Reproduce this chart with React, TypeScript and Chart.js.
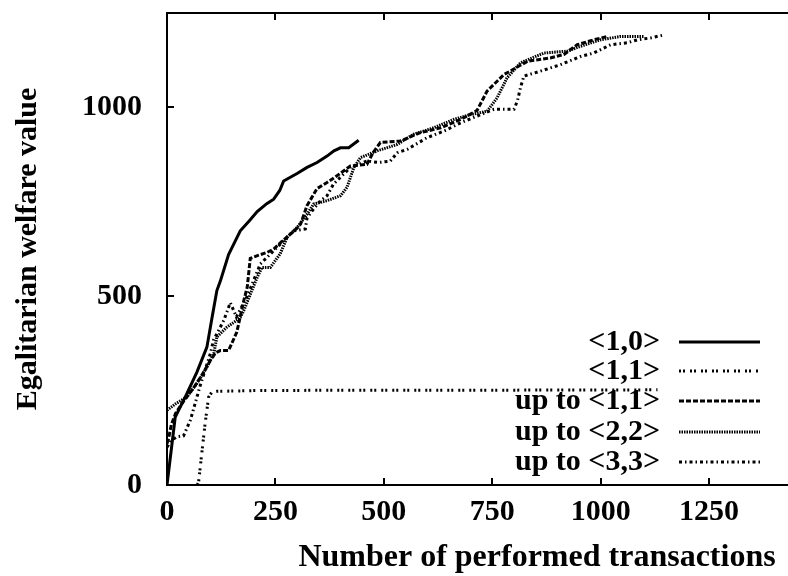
import React, { useEffect, useRef } from 'react';
import { Chart, registerables } from 'chart.js';
Chart.register(...registerables);

const FONT = '"Liberation Serif", "Times New Roman", serif';

// <1,0>
const s10X = [0, 19, 45, 69, 92, 104, 115, 123, 142, 169, 190, 208, 230, 246, 260, 269, 300, 323, 346, 369, 385, 400, 419, 442];
const s10Y = [0, 180, 240, 299, 365, 444, 515, 540, 610, 673, 700, 724, 745, 757, 780, 805, 825, 841, 854, 871, 885, 893, 893, 913];
// <1,1>
const s11X = [70, 73, 81, 88, 96, 103, 115, 200, 400, 700, 1131];
const s11Y = [0, 9, 92, 164, 233, 245, 248, 250, 251, 251, 252];
// up to <1,1>
const u11X = [0, 3, 10, 20, 40, 60, 80, 100, 112, 123, 142, 161, 177, 185, 192, 210, 231, 246, 265, 285, 300, 308, 323, 346, 369, 392, 423, 461, 475, 492, 538, 584, 631, 677, 715, 738, 754, 777, 831, 884, 915, 946, 984, 1016];
const u11Y = [110, 120, 160, 190, 225, 255, 290, 330, 350, 356, 356, 405, 488, 524, 600, 608, 616, 625, 645, 665, 680, 691, 740, 785, 801, 819, 845, 849, 880, 907, 911, 933, 946, 968, 992, 1043, 1061, 1087, 1122, 1131, 1140, 1166, 1179, 1188];
// up to <2,2>
const u22X = [0, 20, 46, 69, 92, 108, 115, 138, 161, 169, 177, 208, 219, 238, 261, 277, 300, 323, 338, 369, 400, 415, 431, 446, 485, 531, 569, 615, 661, 700, 738, 761, 784, 815, 869, 923, 954, 1000, 1046, 1100];
const u22Y = [198, 215, 233, 269, 312, 348, 392, 418, 436, 444, 462, 550, 576, 576, 612, 656, 682, 717, 744, 753, 766, 788, 841, 867, 885, 902, 929, 946, 968, 981, 990, 1025, 1078, 1118, 1144, 1149, 1162, 1179, 1188, 1188];
// up to <3,3>
const u33X = [0, 10, 23, 38, 54, 77, 100, 107, 131, 138, 146, 160, 185, 215, 250, 292, 319, 323, 338, 354, 369, 384, 423, 461, 488, 515, 531, 554, 600, 638, 677, 715, 754, 800, 808, 815, 823, 861, 907, 954, 984, 1023, 1061, 1085, 1115, 1146];
const u33Y = [100, 118, 128, 130, 172, 265, 348, 383, 436, 458, 483, 445, 500, 585, 625, 673, 678, 708, 731, 753, 766, 797, 841, 858, 854, 858, 880, 889, 920, 937, 959, 977, 995, 995, 1017, 1052, 1083, 1096, 1113, 1135, 1144, 1166, 1171, 1179, 1184, 1192];

const seriesLabels = ['<1,0>', '<1,1>', 'up to <1,1>', 'up to <2,2>', 'up to <3,3>'];
const xTicks = [0, 250, 500, 750, 1000, 1250];
const yTicks = [0, 500, 1000];
const xTitle = 'Number of performed transactions';
const yTitle = 'Egalitarian welfare value';
const X_MAX = 1432;
const Y_MAX = 1250;

const styles = [
  { width: 3, dash: [] as number[] },
  { width: 3, dash: [2, 2, 2, 5] },
  { width: 3, dash: [5, 2] },
  { width: 3, dash: [1.5, 1] },
  { width: 3, dash: [3, 3, 1.5, 3] },
];

const pts = (xs: number[], ys: number[]) => xs.map((x, i) => ({ x, y: ys[i] }));

const framePlugin = {
  id: 'frameAndLegend',
  afterDatasetsDraw(chart: any) {
    const { ctx, chartArea: a, scales } = chart;
    ctx.save();
    ctx.strokeStyle = '#000';
    ctx.lineWidth = 2;
    ctx.setLineDash([]);
    // frame: left, top, bottom (right edge is cropped in the original)
    ctx.beginPath();
    ctx.moveTo(a.right + 2, a.top);
    ctx.lineTo(a.left, a.top);
    ctx.lineTo(a.left, a.bottom);
    ctx.lineTo(a.right + 2, a.bottom);
    ctx.stroke();
    const tl = 7;
    ctx.beginPath();
    for (const v of xTicks) {
      const px = Math.round(scales.x.getPixelForValue(v));
      ctx.moveTo(px, a.bottom); ctx.lineTo(px, a.bottom - tl);
      ctx.moveTo(px, a.top); ctx.lineTo(px, a.top + tl);
    }
    for (const v of yTicks) {
      const py = Math.round(scales.y.getPixelForValue(v));
      ctx.moveTo(a.left, py); ctx.lineTo(a.left + tl, py);
    }
    ctx.stroke();
    // legend
    const rows = [342, 371, 401, 432, 462];
    ctx.font = `bold 30px ${FONT}`;
    ctx.fillStyle = '#000';
    ctx.textAlign = 'right';
    ctx.textBaseline = 'middle';
    seriesLabels.forEach((lab, i) => {
      ctx.fillText(lab, 660, rows[i]);
      ctx.beginPath();
      ctx.lineWidth = styles[i].width;
      ctx.setLineDash(styles[i].dash);
      ctx.moveTo(679, rows[i]);
      ctx.lineTo(760, rows[i]);
      ctx.stroke();
    });
    // x axis title (positioned as in the cropped original)
    ctx.font = `bold 32px ${FONT}`;
    ctx.textAlign = 'center';
    ctx.textBaseline = 'alphabetic';
    ctx.fillText(xTitle, 537, 566);
    ctx.restore();
  },
};

export default function App() {
  const ref = useRef<HTMLCanvasElement>(null);
  useEffect(() => {
    const data = [pts(s10X, s10Y), pts(s11X, s11Y), pts(u11X, u11Y), pts(u22X, u22Y), pts(u33X, u33Y)];
    const tickFont = { family: FONT, size: 30, weight: 'bold' as const };
    const yTitleFont = { family: FONT, size: 30, weight: 'bold' as const };
    const chart = new Chart(ref.current!, {
      type: 'line',
      data: {
        datasets: data.map((d, i) => ({
          label: seriesLabels[i],
          data: d,
          borderColor: '#000',
          backgroundColor: '#000',
          borderWidth: styles[i].width,
          borderDash: styles[i].dash,
          pointRadius: 0,
          tension: 0,
          fill: false,
        })),
      },
      options: {
        animation: false,
        responsive: false,
        devicePixelRatio: 1,
        layout: { padding: { top: 13, right: 0, left: 0, bottom: 0 } },
        plugins: { legend: { display: false }, tooltip: { enabled: false } },
        scales: {
          x: {
            type: 'linear',
            min: 0,
            max: X_MAX,
            afterBuildTicks: (s: any) => { s.ticks = xTicks.map((v) => ({ value: v })); },
            afterFit: (s: any) => { s.height = 91; s.paddingLeft = 0; s.paddingRight = 0; },
            grid: { display: false },
            border: { display: false },
            ticks: { font: tickFont, color: '#000', padding: 1, maxRotation: 0, callback: (v: any) => String(v) },
            title: { display: false },
          },
          y: {
            type: 'linear',
            min: 0,
            max: Y_MAX,
            afterBuildTicks: (s: any) => { s.ticks = yTicks.map((v) => ({ value: v })); },
            afterFit: (s: any) => { s.width = 167; s.paddingTop = 0; s.paddingBottom = 0; },
            grid: { display: false },
            border: { display: false },
            ticks: { font: tickFont, color: '#000', padding: 17, callback: (v: any) => String(v) },
            title: { display: true, text: yTitle, font: yTitleFont, color: '#000', padding: { top: 10, bottom: 0 } },
          },
        },
      },
      plugins: [framePlugin],
    });
    return () => chart.destroy();
  }, []);
  return (
    <div style={{ position: 'fixed', left: 0, top: 0, width: 788, height: 576, background: '#fff' }}>
      <canvas ref={ref} width={788} height={576} style={{ width: 788, height: 576, display: 'block' }} />
    </div>
  );
}
